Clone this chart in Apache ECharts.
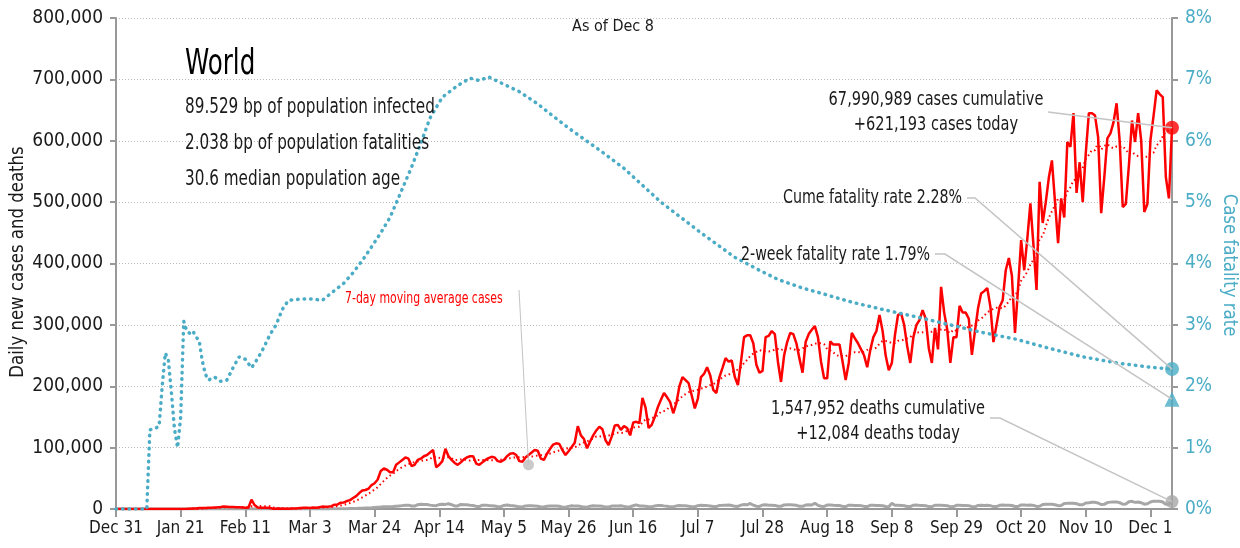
<!DOCTYPE html>
<html><head><meta charset="utf-8">
<script src="https://cdn.jsdelivr.net/npm/echarts@6/dist/echarts.min.js"></script>
<style>html,body{margin:0;padding:0;background:#fff}#c{width:1240px;height:548px}</style>
</head><body><div id="c"></div>
<script>
const FONT = "'Liberation Sans Narrow','Arial Narrow','DejaVu Sans Condensed',sans-serif";

// x-axis tick labels, one every 21 days starting Dec 31, 2019 (day 0)
const tickLabels = ['Dec 31','Jan 21','Feb 11','Mar 3','Mar 24','Apr 14','May 5','May 26','Jun 16','Jul 7','Jul 28','Aug 18','Sep 8','Sep 29','Oct 20','Nov 10','Dec 1'];

// daily new cases (thousands), day 0 = Dec 31 2019 ... day 343 = Dec 8 2020
const casesK = [
  0.03, 0, 0, 0.02, 0,
  0.02, 0, 0, 0, 0, 0, 0,
  0.01, 0, 0.001, 0.01, 0.01, 0.02, 0.02,
  0.14, 0.08, 0.15, 0.15, 0.26, 0.45, 0.69,
  0.79, 1.77, 1.48, 1.76, 1.98, 2.1, 2.6,
  2.83, 3.24, 3.9, 3.7, 3.2, 3.4, 2.7,
  3.0, 2.5, 2.0, 2.0, 15.1, 6.5, 2.6,
  2.1, 2.0, 1.9, 1.8, 0.5, 0.6, 0.9,
  0.6, 0.6, 0.5, 0.9, 1.0, 1.2, 1.7,
  1.9, 2.0, 1.8, 2.3, 2.2, 2.8, 3.9,
  3.8, 4.0, 4.5, 7.0, 7.5, 10.3, 10.7,
  13, 14.5, 18, 21, 26, 30, 31,
  33, 39, 42, 48, 62, 66, 64,
  60, 60, 72, 76, 80, 84, 82,
  70, 72, 80, 82, 86, 88, 92,
  96, 68, 72, 78, 98, 86, 80,
  75, 72, 76, 81, 84, 86, 86,
  74, 72, 76, 80, 83, 85, 84,
  78, 77, 80, 86, 90, 91, 88,
  78, 77, 84, 88, 92, 96, 95,
  82, 80, 90, 98, 105, 107, 106,
  96, 88, 94, 101, 108, 135, 120,
  114, 99, 110, 120, 128, 134, 130,
  112, 104, 118, 136, 137, 129, 135,
  132, 120, 141, 142, 140, 181, 165,
  132, 137, 150, 166, 178, 189, 182,
  174, 156, 172, 200, 215, 210, 205,
  185, 164, 180, 215, 220, 231, 218,
  194, 189, 215, 230, 246, 240, 242,
  215, 202, 240, 280, 283, 283, 270,
  235, 222, 225, 280, 282, 290, 285,
  240, 207, 250, 272, 287, 285, 270,
  245, 222, 272, 285, 292, 298, 280,
  240, 213, 213, 273, 268, 268, 268,
  240, 210, 238, 287, 278, 270, 260,
  250, 231, 259, 280, 290, 316, 290,
  250, 226, 238, 283, 316, 319, 300,
  265, 238, 280, 300, 308, 324, 310,
  262, 238, 295, 260, 362, 320, 292,
  238, 280, 280, 331, 320, 320, 310,
  251, 290, 327, 351, 355, 360, 330,
  272, 300, 329, 340, 389, 409, 380,
  287, 360, 438, 389, 440, 498, 430,
  357, 533, 466, 500, 540, 568, 500,
  433, 506, 475, 598, 590, 645, 515,
  565, 500, 580, 645, 645, 641, 606,
  482, 540, 604, 612, 630, 661, 600,
  492, 497, 560, 633, 598, 645, 600,
  484, 497, 601, 640, 682, 676, 671,
  541, 506, 621.193
];

// daily new deaths (thousands)
const deathsK = [
  0, 0, 0, 0, 0,
  0, 0, 0, 0, 0, 0, 0.001,
  0, 0, 0, 0.001, 0, 0, 0.001,
  0.001, 0.003, 0.003, 0.011, 0.008, 0.016, 0.015,
  0.024, 0.026, 0.026, 0.038, 0.043, 0.046, 0.045,
  0.057, 0.064, 0.066, 0.073, 0.073, 0.086, 0.089,
  0.097, 0.108, 0.097, 0.146, 0.254, 0.13, 0.143,
  0.142, 0.106, 0.098, 0.139, 0.116, 0.118, 0.109,
  0.097, 0.15, 0.071, 0.052, 0.029, 0.044, 0.047,
  0.05, 0.07, 0.08, 0.1, 0.1, 0.1, 0.1,
  0.23, 0.2, 0.25, 0.34, 0.35, 0.45, 0.42,
  0.6, 0.7, 0.8, 1.0, 1.2, 1.4, 1.6,
  1.8, 2.0, 2.4, 2.8, 3.1, 3.5, 3.6,
  3.5, 3.9, 4.5, 5.0, 5.5, 6.0, 6.3,
  5.0, 4.8, 7.0, 7.6, 7.3, 7.4, 6.3,
  5.6, 5.4, 7.2, 7.9, 7.5, 8.5, 7.0,
  5.0, 5.0, 7.5, 7.0, 6.8, 6.2, 5.7,
  4.2, 4.0, 6.3, 6.3, 5.6, 5.3, 5.0,
  3.6, 3.8, 5.8, 6.4, 5.6, 5.2, 4.6,
  3.5, 3.4, 5.0, 5.2, 5.1, 4.9, 4.5,
  3.4, 3.4, 4.4, 4.9, 4.9, 4.9, 4.4,
  3.0, 3.0, 4.3, 5.3, 4.7, 4.9, 4.2,
  3.1, 3.0, 4.6, 5.2, 5.0, 4.8, 4.3,
  3.3, 3.2, 4.7, 5.0, 5.0, 5.2, 4.3,
  3.4, 3.6, 5.3, 6.8, 5.0, 5.0, 4.6,
  3.7, 3.5, 5.0, 5.6, 5.8, 5.1, 4.5,
  3.5, 3.5, 5.0, 5.6, 5.3, 5.2, 4.6,
  3.8, 3.7, 5.5, 6.0, 5.6, 5.5, 5.0,
  4.1, 3.9, 5.9, 6.0, 6.2, 6.6, 5.6,
  4.3, 4.1, 6.3, 7.2, 6.8, 9.0, 6.2,
  4.5, 4.2, 6.5, 6.9, 6.3, 6.2, 5.9,
  4.4, 4.3, 6.7, 6.9, 6.8, 6.5, 6.0,
  4.5, 4.4, 6.4, 6.8, 6.5, 9.5, 6.0,
  4.5, 4.2, 6.4, 6.6, 6.1, 5.9, 5.6,
  4.2, 4.0, 6.2, 6.2, 5.9, 5.7, 5.5,
  4.2, 3.9, 6.0, 6.2, 5.9, 5.8, 5.4,
  4.0, 3.8, 9.5, 6.0, 6.0, 5.9, 5.4,
  4.0, 3.9, 6.2, 6.5, 5.9, 5.6, 5.3,
  3.9, 3.8, 6.1, 6.2, 6.0, 5.6, 5.2,
  3.8, 3.9, 6.0, 6.1, 5.9, 5.9, 5.4,
  3.8, 3.6, 5.8, 6.2, 5.9, 6.1, 5.5,
  3.9, 3.9, 6.0, 6.4, 6.1, 6.2, 5.7,
  4.0, 4.1, 6.6, 6.7, 6.3, 6.6, 5.9,
  4.2, 4.5, 7.4, 7.7, 7.6, 7.8, 6.9,
  5.4, 5.7, 9.0, 9.2, 9.5, 9.5, 8.7,
  6.8, 6.9, 9.8, 10.3, 10.9, 10.8, 9.8,
  7.3, 7.6, 10.4, 11.2, 11.4, 11.6, 10.3,
  7.7, 8.1, 11.8, 12.5, 10.8, 11.5, 10.2,
  7.9, 8.6, 11.5, 12.8, 12.7, 12.6, 11.4,
  7.6, 8.1, 12.084
];

// cumulative case fatality rate (%), read at these days
const cfrDays = [0, 10, 11, 12, 13, 14, 15, 16, 17, 18, 19, 20, 21, 22, 23, 24, 25, 26, 27, 28, 29, 30, 32, 34, 36, 38, 40, 42, 44, 46, 48, 50, 52, 54, 56, 60, 64, 67, 70, 74, 77, 80, 83, 86, 89, 92, 96, 99, 102, 106, 111, 115, 118, 121, 126, 131, 137, 142, 148, 157, 165, 177, 190, 201, 209, 215, 223, 228, 239, 250, 260, 271, 281, 292, 303, 314, 325, 336, 343];
const cfrPct  = [0, 0, 1.29, 1.3, 1.32, 1.35, 2.0, 2.54, 2.43, 1.9, 1.3, 1.0, 1.5, 3.06, 2.9, 2.86, 2.9, 2.8, 2.75, 2.42, 2.2, 2.1, 2.15, 2.08, 2.1, 2.3, 2.48, 2.44, 2.3, 2.45, 2.63, 2.84, 3.0, 3.25, 3.4, 3.42, 3.42, 3.4, 3.52, 3.68, 3.85, 4.05, 4.27, 4.5, 4.75, 5.1, 5.57, 5.96, 6.37, 6.71, 6.9, 7.02, 6.98, 7.04, 6.92, 6.8, 6.6, 6.4, 6.17, 5.85, 5.55, 5.0, 4.5, 4.1, 3.89, 3.74, 3.6, 3.53, 3.37, 3.24, 3.13, 3.0, 2.88, 2.77, 2.62, 2.48, 2.38, 2.31, 2.28];

const cumeCases = 67990989, todayCases = 621193;
const cumeDeaths = 1547952, todayDeaths = 12084;
const cumeCfr = 2.28, twoWeekCfr = 1.79;
const maLabelAnchor = [134, 72000];

const fmt = n => n.toLocaleString('en-US');
const cases = casesK.map(v => Math.round(v * 1000));
const deaths = deathsK.map(v => Math.round(v * 1000));
const lastDay = cases.length - 1;
const ma = cases.map((v, i) => {
  const s = cases.slice(Math.max(0, i - 6), i + 1);
  return s.reduce((a, b) => a + b, 0) / s.length;
});

const RED = '#ff0000', TEAL = '#4bacc6', GRAY = '#a6a6a6', TXT = '#1a1a1a', LEAD = '#c4c4c4';

const chart = echarts.init(document.getElementById('c'), null, {renderer: 'canvas'});
const option = {
  animation: false,
  backgroundColor: '#fff',
  textStyle: {fontFamily: FONT},
  grid: {left: 116, right: 68, top: 18, bottom: 39},
  xAxis: {
    type: 'value', min: 0, max: lastDay, interval: 21,
    axisLine: {show: true, lineStyle: {color: '#999', width: 2}},
    axisTick: {show: true, length: 8, lineStyle: {color: '#999', width: 2}},
    axisLabel: {
      fontFamily: FONT, fontSize: 17, color: TXT, margin: 11, showMaxLabel: false,
      formatter: v => (v % 21 === 0 && tickLabels[v / 21]) ? tickLabels[v / 21] : ''
    },
    splitLine: {show: false}
  },
  yAxis: [{
    type: 'value', min: 0, max: 800000, interval: 100000,
    axisLine: {show: true, lineStyle: {color: '#999', width: 2}},
    axisTick: {show: true, length: 6, lineStyle: {color: '#999', width: 2}},
    axisLabel: {fontFamily: FONT, fontSize: 19, color: TXT, margin: 13, formatter: v => fmt(v)},
    splitLine: {show: true, lineStyle: {color: '#b8b8b8', type: [1, 2], width: 1}}
  }, {
    type: 'value', min: 0, max: 8, interval: 1, position: 'right',
    axisLine: {show: true, lineStyle: {color: '#999', width: 2}},
    axisTick: {show: true, length: 6, lineStyle: {color: '#999', width: 2}},
    axisLabel: {fontFamily: FONT, fontSize: 19, color: TEAL, margin: 13, formatter: '{value}%'},
    splitLine: {show: false}
  }],
  series: [
    {type: 'line', name: 'deaths', data: deaths.map((v, i) => [i, v]), showSymbol: false,
     lineStyle: {color: GRAY, width: 3}, z: 2},
    {type: 'line', name: 'cases', data: cases.map((v, i) => [i, v]), showSymbol: false,
     lineStyle: {color: RED, width: 2.5}, z: 3},
    {type: 'line', name: 'ma', data: ma.map((v, i) => [i, v]), showSymbol: false,
     lineStyle: {color: RED, width: 2, type: [1.5, 3]}, z: 4},
    {type: 'line', name: 'cfr', yAxisIndex: 1, data: cfrDays.map((d, i) => [d, cfrPct[i]]), showSymbol: false,
     lineStyle: {color: TEAL, width: 3.5, type: [0.5, 6], cap: 'round'}, z: 5},
    {type: 'scatter', name: 'endCases', clip: false, data: [[lastDay, todayCases]], symbol: 'circle', symbolSize: 14,
     itemStyle: {color: RED}, z: 10},
    {type: 'scatter', name: 'endDeaths', clip: false, data: [[lastDay, todayDeaths]], symbol: 'circle', symbolSize: 13,
     itemStyle: {color: GRAY}, z: 10},
    {type: 'scatter', name: 'endCfr', yAxisIndex: 1, clip: false, data: [[lastDay, cumeCfr]], symbol: 'circle', symbolSize: 14,
     itemStyle: {color: TEAL}, z: 10},
    {type: 'scatter', name: 'end2wk', yAxisIndex: 1, clip: false, data: [[lastDay, twoWeekCfr]], symbol: 'triangle', symbolSize: 15,
     itemStyle: {color: TEAL}, z: 10},
    {type: 'scatter', name: 'maAnchor', clip: false, data: [maLabelAnchor], symbol: 'circle', symbolSize: 11,
     itemStyle: {color: '#bdbdbd'}, z: 10}
  ]
};
chart.setOption(option);

const P = (si, pt) => chart.convertToPixel({seriesIndex: si}, pt);
const pCases = P(4, [lastDay, todayCases]);
const pDeaths = P(5, [lastDay, todayDeaths]);
const pCfr = P(6, [lastDay, cumeCfr]);
const p2wk = P(7, [lastDay, twoWeekCfr]);
const pMa = P(8, maLabelAnchor);

const T = (x, y, text, o = {}) => ({
  type: 'text', x, y, z: 50,
  scaleX: o.sx || 1,
  style: Object.assign({text, fill: TXT, font: `${o.weight || 'normal'} ${o.size || 20}px ${FONT}`, align: o.align || 'left', verticalAlign: 'middle', lineHeight: o.lh || 25}, o.style || {}),
  rotation: o.rot || 0
});
const L = (pts, w) => ({type: 'polyline', z: 40, shape: {points: pts}, style: {stroke: LEAD, lineWidth: w || 1.5, fill: null}});

chart.setOption({
  graphic: [
    T(613, 27, 'As of Dec 8', {size: 16, align: 'center'}),
    T(185, 65, 'World', {size: 35, sx: 0.78, style: {fill: '#000'}}),
    T(185, 107, '89.529 bp of population infected', {size: 22, sx: 0.77}),
    T(185, 143, '2.038 bp of population fatalities', {size: 22, sx: 0.77}),
    T(185, 179, '30.6 median population age', {size: 22, sx: 0.77}),
    T(936, 112, fmt(cumeCases) + ' cases cumulative\n+' + fmt(todayCases) + ' cases today', {size: 20, sx: 0.81, align: 'center'}),
    T(962, 198, 'Cume fatality rate ' + cumeCfr.toFixed(2) + '%', {size: 20, sx: 0.79, align: 'right'}),
    T(930, 255, '2-week fatality rate ' + twoWeekCfr.toFixed(2) + '%', {size: 20, sx: 0.79, align: 'right'}),
    T(878, 421, fmt(cumeDeaths) + ' deaths cumulative\n+' + fmt(todayDeaths) + ' deaths today', {size: 20, sx: 0.81, align: 'center'}),
    T(345, 299, '7-day moving average cases', {size: 15, sx: 0.81, style: {fill: RED}}),
    T(18, 262, 'Daily new cases and deaths', {size: 20, sx: 0.92, align: 'center', rot: Math.PI / 2}),
    T(1229, 265, 'Case fatality rate', {size: 20, sx: 0.92, align: 'center', rot: -Math.PI / 2, style: {fill: TEAL}}),
    L([[1048, 112], pCases]),
    L([[967, 198], [975, 198], pCfr]),
    L([[935, 254], [945, 254], p2wk]),
    L([[990, 418], [1000, 418], pDeaths]),
    L([[519, 290], pMa], 1)
  ]
});
</script>
</body></html>
